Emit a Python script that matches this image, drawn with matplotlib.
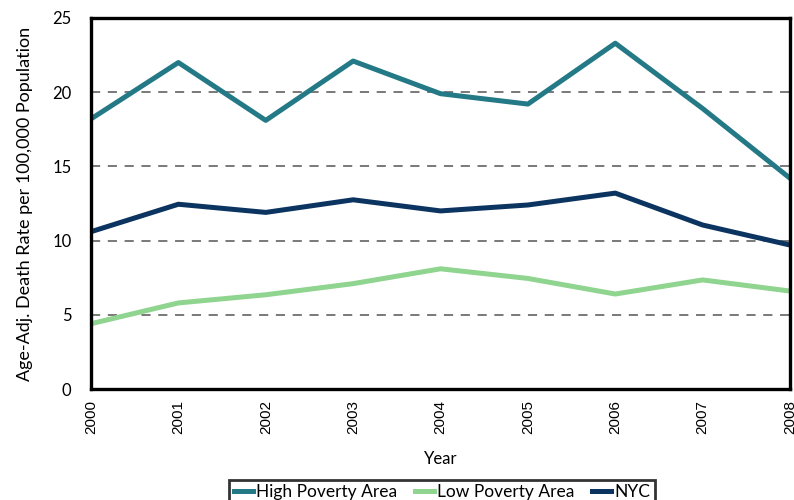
import numpy as np
import matplotlib.pyplot as plt

# --- datos ---
years = [2000, 2001, 2002, 2003, 2004, 2005, 2006, 2007, 2008]
high_poverty = [18.2, 22.0, 18.1, 22.1, 19.9, 19.2, 23.3, 18.9, 14.2]
low_poverty = [4.4, 5.8, 6.35, 7.1, 8.1, 7.45, 6.4, 7.35, 6.6]
nyc = [10.6, 12.45, 11.9, 12.75, 12.0, 12.4, 13.2, 11.05, 9.7]

plt.rcParams['font.family'] = ['Lato', 'DejaVu Sans']

fig = plt.figure(figsize=(7.94, 5), dpi=100)
ax = fig.add_axes([0.1146, 0.222, 0.8804, 0.742])

ax.plot(years, high_poverty, color='#237985', lw=3.6, label='High Poverty Area')
ax.plot(years, low_poverty, color='#8fd48f', lw=3.6, label='Low Poverty Area')
ax.plot(years, nyc, color='#0c3461', lw=3.6, label='NYC')

ax.set_xlim(2000, 2008)
ax.set_ylim(0, 25)
ax.set_yticks([0, 5, 10, 15, 20, 25])
ax.set_xticks(years)
ax.set_xticklabels([str(y) for y in years], rotation=90, fontsize=11,
                   family='Liberation Sans')
ax.tick_params(axis='y', labelsize=12, length=0, pad=14)
ax.tick_params(axis='x', length=0, pad=8)

for v in [5, 10, 15, 20]:
    ax.axhline(v, color='#555555', lw=1.1, ls=(0, (6, 5)), zorder=0)

for s in ax.spines.values():
    s.set_linewidth(2.4)
    s.set_color('black')

ax.set_ylabel('Age-Adj. Death Rate per 100,000 Population', fontsize=13, labelpad=14)
ax.set_xlabel('Year', fontsize=12, labelpad=12)

leg = fig.legend(loc='upper center', bbox_to_anchor=(0.557, 0.058), ncol=3,
                 fontsize=12.5, handlelength=1.1, handletextpad=0.2,
                 columnspacing=1.0, fancybox=False, borderpad=0.25,
                 frameon=True)
leg.get_frame().set_edgecolor('black')
leg.get_frame().set_linewidth(2)

fig.savefig('out.png', dpi=100)
